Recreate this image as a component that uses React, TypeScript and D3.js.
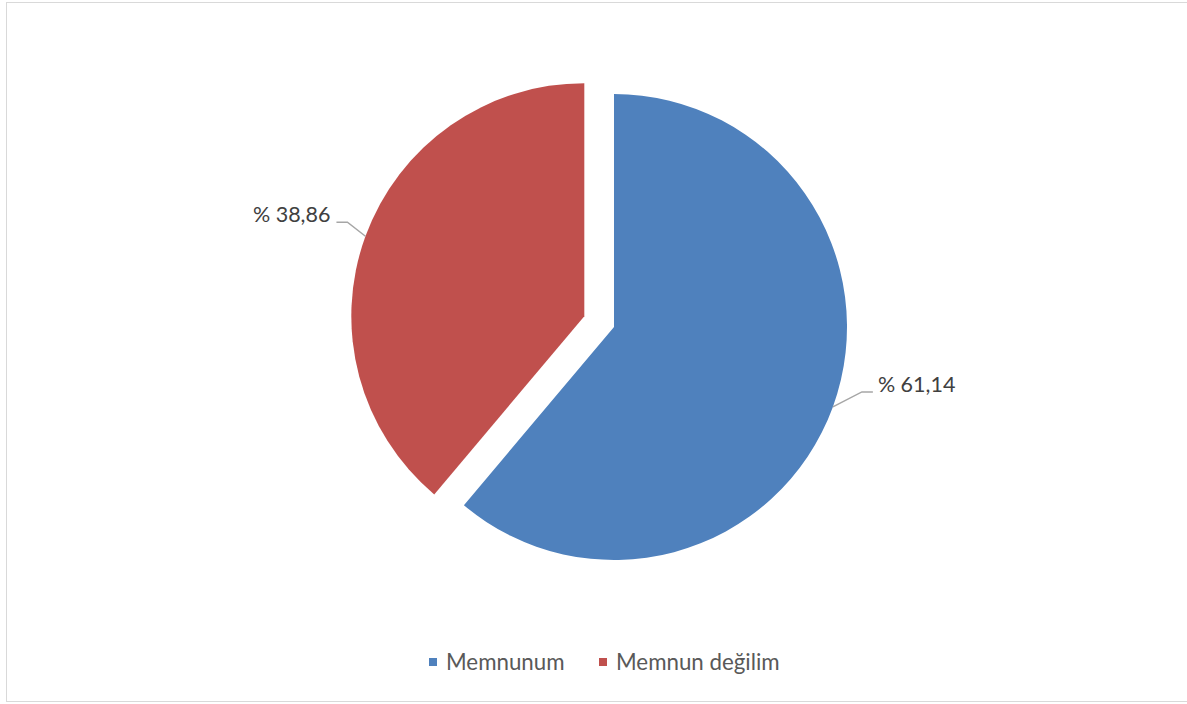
import React from "react";
import * as d3 from "d3";

const categories = ["Memnunum", "Memnun değilim"];
const values = [61.14, 38.86];
const labels = ["% 61,14", "% 38,86"];
const colors = ["#4F81BD", "#C0504D"];
const explode = [0, 31.6];

export default function App() {
  const W = 1187, H = 704;
  const cx = 614, cy = 327, r = 233;
  const pie = d3.pie<number>().sort(null).value((d) => d)(values);
  const arc = d3.arc<d3.PieArcDatum<number>>().innerRadius(0).outerRadius(r);
  const font = "Lato, 'Open Sans', sans-serif";

  return (
    <svg width={W} height={H} style={{ position: "absolute", left: 0, top: 0, background: "#fff" }}>
      <rect x={6.5} y={2.5} width={1190} height={699} fill="#fff" stroke="#D9D9D9" strokeWidth={1} />
      {pie.map((p, i) => {
        const mid = (p.startAngle + p.endAngle) / 2;
        const ox = Math.sin(mid) * explode[i];
        const oy = -Math.cos(mid) * explode[i];
        const px = cx + ox + Math.sin(mid) * r;
        const py = cy + oy - Math.cos(mid) * r;
        const right = Math.sin(mid) >= 0;
        const ex = right ? px + 29 : px - 18;
        const ey = right ? py - 15 : py - 14;
        const hx = right ? ex + 11 : ex - 11;
        const tx = right ? hx + 5 : hx - 6;
        return (
          <g key={categories[i]}>
            <path d={arc(p) || ""} transform={`translate(${cx + ox},${cy + oy})`} fill={colors[i]} />
            <polyline points={`${px},${py} ${ex},${ey} ${hx},${ey}`} fill="none" stroke="#A6A6A6" strokeWidth={1.5} />
            <text x={tx} y={ey} textAnchor={right ? "start" : "end"} fontFamily={font} fontSize={21.5} fill="#404040">
              {labels[i]}
            </text>
          </g>
        );
      })}
      {[
        { x: 429, tx: 446 },
        { x: 599, tx: 616 },
      ].map((l, i) => (
        <g key={"lg" + i}>
          <rect x={l.x} y={658} width={8} height={8} fill={colors[i]} />
          <text x={l.tx} y={670} fontFamily={font} fontSize={22.3} fill="#595959">
            {categories[i]}
          </text>
        </g>
      ))}
    </svg>
  );
}
